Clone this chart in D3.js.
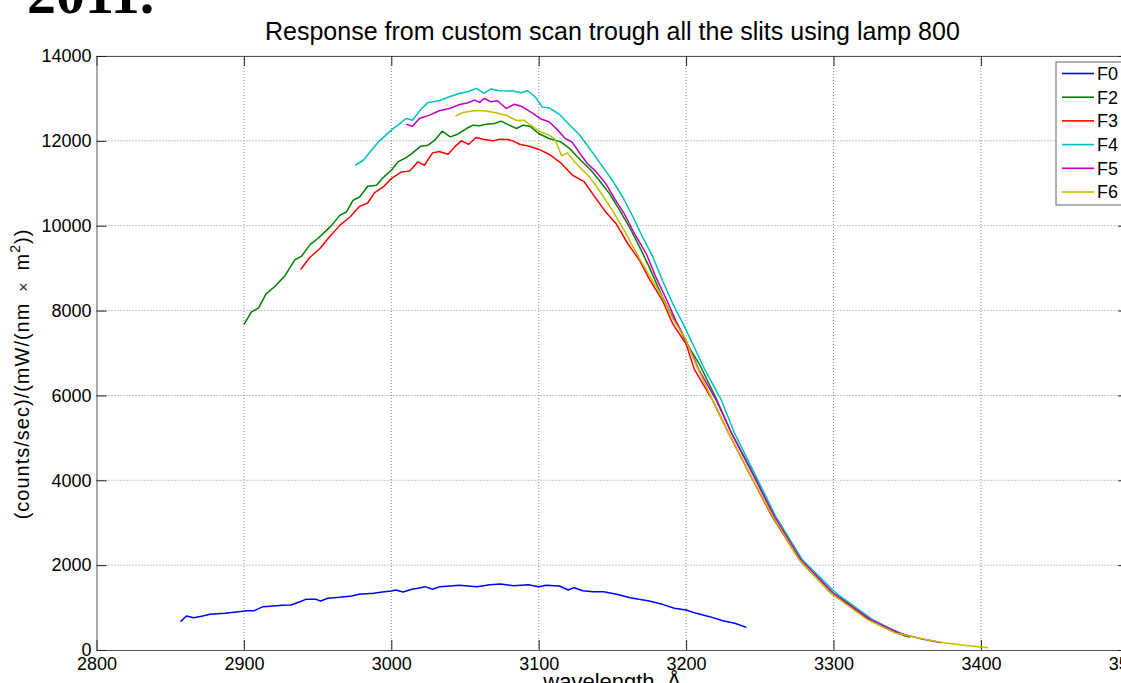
<!DOCTYPE html>
<html>
<head>
<meta charset="utf-8">
<script src="https://cdn.jsdelivr.net/npm/d3@7"></script>
<style>
  body { margin: 0; background: #fff; }
  svg { display: block; font-family: "Liberation Sans", Arial, sans-serif; }
</style>
</head>
<body>
<div class="chart"></div>
<script>
// wavelength (Å), response pairs
const f0 = [[2857,668],[2861,801],[2866,762],[2872,801],[2877,841],[2887,864],[2895,896],[2902,927],[2907,927],[2913,1021],[2920,1037],[2926,1053],[2932,1061],[2938,1139],[2942,1194],[2949,1194],[2952,1155],[2957,1218],[2965,1241],[2973,1273],[2978,1312],[2988,1336],[2994,1367],[3000,1391],[3003,1414],[3008,1367],[3014,1430],[3018,1453],[3023,1493],[3028,1430],[3033,1493],[3040,1508],[3046,1524],[3058,1493],[3067,1540],[3074,1555],[3083,1516],[3093,1540],[3100,1493],[3105,1524],[3114,1508],[3120,1414],[3124,1469],[3130,1398],[3137,1375],[3144,1375],[3153,1312],[3162,1233],[3168,1194],[3175,1155],[3184,1076],[3192,982],[3200,943],[3207,864],[3216,786],[3225,691],[3233,629],[3241,534]]

const f2 = [[2900,7669],[2905,7961],[2910,8063],[2915,8394],[2921,8567],[2928,8827],[2934.5,9197],[2939,9276],[2945,9559],[2950,9693],[2956,9890],[2959.5,10008],[2965,10244],[2969.5,10323],[2974,10598],[2978.5,10677],[2984,10929],[2990,10953],[2994.5,11134],[3000,11307],[3004.5,11504],[3010,11606],[3014.5,11717],[3020,11874],[3025,11898],[3029.5,12016],[3034.5,12228],[3040,12094],[3045,12157],[3051,12291],[3055.5,12370],[3060,12354],[3064.5,12394],[3070,12409],[3074.5,12465],[3080,12370],[3085,12291],[3089.5,12370],[3094,12346],[3100,12173],[3107,12055],[3115,11976],[3121,11819],[3128.5,11543],[3135.5,11307],[3141,11071],[3148,10756],[3155,10362],[3161.5,9969],[3168.5,9496],[3175,9024],[3182,8472],[3188.5,8000],[3195.5,7567],[3202,7134],[3209,6740],[3221,5882],[3231,5098],[3245.5,4157],[3260,3137],[3278,2118],[3300,1333],[3325.5,706],[3345,380],[3352,300]]

const f3 = [[2938.5,8969],[2944.5,9244],[2951.5,9457],[2958,9732],[2965,10008],[2972,10205],[2978.5,10457],[2984,10535],[2988.5,10772],[2994.5,10913],[3000,11110],[3007,11268],[3012.5,11291],[3018,11504],[3022.5,11425],[3028,11717],[3032.5,11748],[3038.5,11685],[3043,11858],[3047.5,12000],[3052.5,11921],[3057.5,12079],[3063,12031],[3069,12000],[3073.5,12039],[3079,12031],[3082.5,12000],[3087,11921],[3093.5,11874],[3100.5,11795],[3107,11685],[3115,11480],[3123,11189],[3131,11031],[3136.5,10756],[3145.5,10323],[3152.5,10047],[3160.5,9575],[3168.5,9181],[3175,8748],[3184,8236],[3191,7685],[3200,7212],[3205.5,6622],[3218,5882],[3229,5098],[3243,4157],[3258.5,3137],[3277,2118],[3298.5,1333],[3324.5,706],[3343,400],[3350,320]]

const f4 = [[2975.5,11425],[2981,11543],[2986.5,11780],[2992,12000],[3000,12252],[3004.5,12370],[3010,12528],[3014.5,12488],[3020,12740],[3025,12906],[3032.5,12945],[3039.5,13039],[3046,13118],[3052,13157],[3057.5,13236],[3063,13118],[3067.5,13220],[3073.5,13181],[3082.5,13173],[3088,13134],[3092.5,13181],[3097.5,13039],[3102.5,12795],[3107,12776],[3114,12626],[3120.5,12390],[3127.5,12150],[3134.5,11820],[3141,11504],[3150,11071],[3157,10677],[3164,10205],[3170.5,9732],[3177.5,9260],[3184,8709],[3191,8157],[3198,7685],[3204.5,7212],[3212.5,6622],[3224,5882],[3233,5098],[3246.5,4157],[3261,3137],[3279,2118],[3302,1333],[3327,706],[3340,480],[3347.5,370]]

const f5 = [[3010,12394],[3014.5,12346],[3019,12528],[3026,12606],[3032.5,12709],[3039.5,12764],[3046.5,12858],[3052,12898],[3056.5,12961],[3060,12906],[3063,13000],[3067.5,12921],[3072,12945],[3078,12764],[3083.5,12862],[3089,12803],[3095.5,12660],[3101.5,12516],[3107,12449],[3113,12252],[3118,12055],[3122.5,11976],[3128,11701],[3133,11465],[3139,11268],[3145.5,10992],[3151.5,10638],[3158,10283],[3165,9811],[3173,9339],[3179.5,8788],[3186.5,8276],[3193,7764],[3200,7291],[3209,6583],[3220.5,5882],[3231,5098],[3245,4157],[3260,3137],[3278,2118],[3300,1333],[3325.5,706],[3345,390],[3360,260],[3373.5,172]]

const f6 = [[3043.5,12583],[3048.5,12669],[3056.5,12709],[3063,12709],[3071,12661],[3078,12606],[3085,12480],[3090,12488],[3093,12409],[3097,12315],[3101,12213],[3107,12134],[3111,12040],[3115.5,11650],[3119.5,11717],[3125.5,11460],[3130,11300],[3134,11170],[3141,10835],[3150,10362],[3158,9890],[3166,9378],[3175,8827],[3184,8315],[3191,7803],[3199,7370],[3207,6701],[3218,5882],[3229,5098],[3243,4157],[3259,3137],[3277,2118],[3298.5,1333],[3323.5,706],[3342,400],[3360,265],[3375,170],[3390,105],[3405,54]]

const seriesNames = ["F0", "F2", "F3", "F4", "F5", "F6"]
const seriesColors = ["#0000ff", "#008000", "#ff0000", "#00bfbf", "#bf00bf", "#bfbf00"]
const seriesData = [f0, f2, f3, f4, f5, f6]
const xTicks = [2800, 2900, 3000, 3100, 3200, 3300, 3400, 3500]
const yTicks = [0, 2000, 4000, 6000, 8000, 10000, 12000, 14000]

const W = 1121, H = 683
const margin = {left: 96.5, top: 56}
const w = 1031.8, h = 594

const svg = d3.select(".chart").append("svg").attr("width", W).attr("height", H)

// year fragment at top left
svg.append("text").attr("x", 27).attr("y", 13)
  .style("font-family", "'Liberation Serif', 'Times New Roman', serif")
  .style("font-size", "58px").style("font-weight", "bold")
  .text("2011.")

const xScale = d3.scaleLinear().domain([2800, 3500]).range([0, w])
const yScale = d3.scaleLinear().domain([0, 14000]).range([h, 0])

const g = svg.append("g").attr("transform", `translate(${margin.left},${margin.top})`)

// dotted grid
g.selectAll(".vgrid").data(xTicks.slice(1)).join("line").attr("class", "vgrid")
  .attr("x1", d => xScale(d)).attr("x2", d => xScale(d)).attr("y1", 0).attr("y2", h)
  .attr("stroke", "#8c8c8c").attr("stroke-width", 1).attr("stroke-dasharray", "1,2")
g.selectAll(".hgrid").data(yTicks.slice(1)).join("line").attr("class", "hgrid")
  .attr("x1", 0).attr("x2", w).attr("y1", d => yScale(d)).attr("y2", d => yScale(d))
  .attr("stroke", "#8c8c8c").attr("stroke-width", 1).attr("stroke-dasharray", "1,2")

// axes (inward ticks, matlab style)
const xAxis = g.append("g").attr("transform", `translate(0,${h})`)
  .call(d3.axisBottom(xScale).tickValues(xTicks).tickSizeInner(-10).tickSizeOuter(0).tickPadding(7).tickFormat(d3.format("d")))
const xTop = g.append("g")
  .call(d3.axisTop(xScale).tickValues(xTicks).tickSizeInner(-10).tickSizeOuter(0).tickFormat(""))
const yAxis = g.append("g")
  .call(d3.axisLeft(yScale).tickValues(yTicks).tickSizeInner(-10).tickSizeOuter(0).tickPadding(5).tickFormat(d3.format("d")))
const yRight = g.append("g").attr("transform", `translate(${w},0)`)
  .call(d3.axisRight(yScale).tickValues(yTicks).tickSizeInner(-10).tickSizeOuter(0).tickFormat(""))

;[xAxis, xTop, yAxis, yRight].forEach(a => {
  a.select(".domain").attr("stroke", "#555")
  a.selectAll(".tick line").attr("stroke", "#222")
  a.selectAll("text").attr("fill", "#000").style("font-size", "18px").style("font-family", "'Liberation Sans', Arial, sans-serif")
})

// curves
const line = d3.line().x(d => xScale(d[0])).y(d => yScale(d[1]))
g.selectAll(".curve").data(seriesData).join("path").attr("class", "curve")
  .attr("d", d => line(d))
  .attr("fill", "none")
  .attr("stroke", (d, i) => seriesColors[i])
  .attr("stroke-width", 1.5)
  .attr("stroke-linejoin", "round")

// title and labels
svg.append("text").attr("x", margin.left + w / 2).attr("y", 40)
  .attr("text-anchor", "middle").style("font-size", "25px")
  .text("Response from custom scan trough all the slits using lamp 800")

svg.append("text").attr("x", margin.left + w / 2).attr("y", 689)
  .attr("text-anchor", "middle").style("font-size", "22px")
  .text("wavelength, Å")

const yl = svg.append("text").attr("transform", `translate(29,374) rotate(-90)`)
  .attr("text-anchor", "middle").style("font-size", "20px").style("letter-spacing", "1px")
yl.append("tspan").text("(counts/sec)/(mW/(nm")
yl.append("tspan").text(" \u00a0×\u00a0 ").style("font-size", "16px").attr("fill", "#333")
yl.append("tspan").text("m")
yl.append("tspan").text("2").style("font-size", "14px").attr("dy", -9)
yl.append("tspan").text("))").attr("dy", 9)

// legend
const legend = svg.append("g").attr("transform", "translate(1056,62)")
legend.append("rect").attr("x", 0).attr("y", 0).attr("width", 80).attr("height", 143)
  .attr("fill", "#fff").attr("stroke", "#808080").attr("stroke-width", 1.2)
legend.selectAll(".lg-line").data(seriesNames).join("line").attr("class", "lg-line")
  .attr("x1", 6).attr("x2", 38)
  .attr("y1", (d, i) => 11.5 + i * 23.7).attr("y2", (d, i) => 11.5 + i * 23.7)
  .attr("stroke", (d, i) => seriesColors[i]).attr("stroke-width", 1.6)
legend.selectAll(".lg-text").data(seriesNames).join("text").attr("class", "lg-text")
  .attr("x", 41).attr("y", (d, i) => 11.5 + i * 23.7).attr("dy", "0.35em")
  .style("font-size", "18px").text(d => d)
</script>
</body>
</html>
